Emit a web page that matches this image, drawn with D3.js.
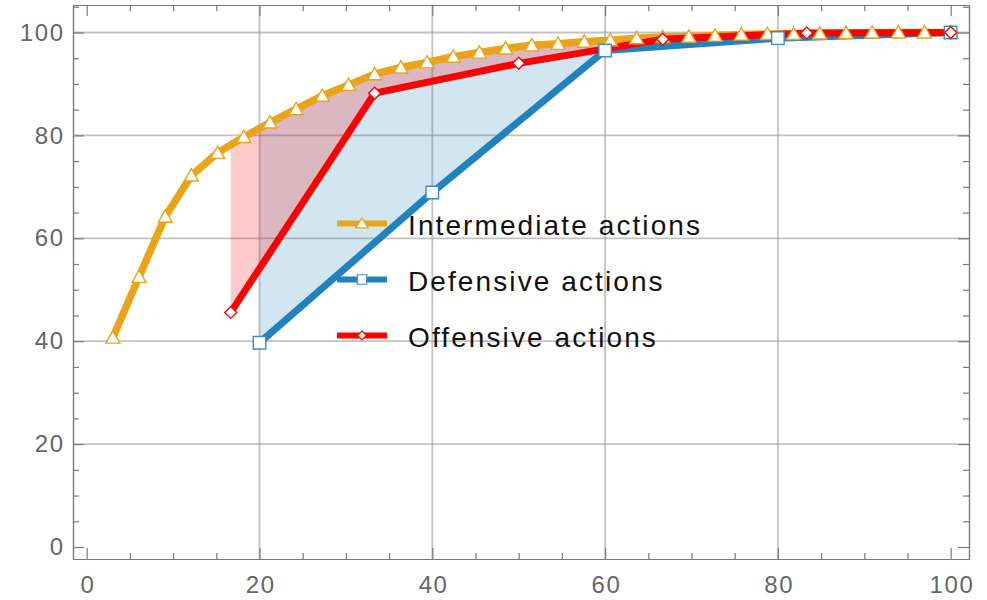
<!DOCTYPE html>
<html><head><meta charset="utf-8">
<script src="https://cdn.jsdelivr.net/npm/d3@7/dist/d3.min.js"></script>
<style>
body{margin:0;background:#fff}
svg{display:block}
text{font-family:"Liberation Sans",Arial,Helvetica,sans-serif}
</style>
</head><body>
<svg id="chart" width="987" height="600"></svg>
<script>
// ---------------- data ----------------
const seriesNames = ["Intermediate actions", "Defensive actions", "Offensive actions"];

const intermediateX = [3.03, 6.06, 9.09, 12.12, 15.15, 18.18, 21.21, 24.24, 27.27, 30.30,
  33.33, 36.36, 39.39, 42.42, 45.45, 48.48, 51.52, 54.55, 57.58, 60.61,
  63.64, 66.67, 69.70, 72.73, 75.76, 78.79, 81.82, 84.85, 87.88, 90.91,
  93.94, 96.97, 100];
const intermediateY = [40.7, 52.5, 64.2, 72.2, 76.6, 79.7, 82.5, 85.1, 87.7, 89.8,
  91.9, 93.2, 94.2, 95.3, 96.1, 96.9, 97.5, 97.8, 98.2, 98.5,
  98.9, 99.1, 99.2, 99.4, 99.6, 99.7, 99.7, 99.8, 99.9, 100,
  100, 100, 100];

const defensiveX = [20, 40, 60, 80, 100];
const defensiveY = [39.7, 68.9, 96.5, 98.9, 100];

const offensiveX = [16.67, 33.33, 50, 66.67, 83.33, 100];
const offensiveY = [45.6, 88.2, 94.0, 98.7, 99.9, 100];

const xTicks = [0, 20, 40, 60, 80, 100];
const yTicks = [0, 20, 40, 60, 80, 100];
const xMinorTicks = [5, 10, 15, 25, 30, 35, 45, 50, 55, 65, 70, 75, 85, 90, 95];
const yMinorTicks = [5, 10, 15, 25, 30, 35, 45, 50, 55, 65, 70, 75, 85, 90, 95, 105];
const xGrid = [20, 40, 60, 80];
const yGrid = [20, 40, 60, 80, 100];

// ---------------- styles ----------------
const COL_ORANGE = "#e9a517";
const COL_BLUE = "#2083c0";
const COL_RED = "#ff0000";
const FRAME = {left: 73, right: 969, top: 5, bottom: 559};

const svg = d3.select("#chart");

const x = d3.scaleLinear().domain([-1.586, 102.12]).range([FRAME.left, FRAME.right]);
const y = d3.scaleLinear().domain([-2.33, 105.34]).range([FRAME.bottom, FRAME.top]);

const zip = (xs, ys) => xs.map((v, i) => [v, ys[i]]);
const inter = zip(intermediateX, intermediateY);
const def = zip(defensiveX, defensiveY);
const off = zip(offensiveX, offensiveY);

// ---------------- grid ----------------
const grid = svg.append("g").attr("stroke", "#9a9a9a").attr("stroke-opacity", 0.6).attr("stroke-width", 1.8);
grid.selectAll("line.v").data(xGrid).join("line")
  .attr("x1", d => x(d)).attr("x2", d => x(d))
  .attr("y1", FRAME.top).attr("y2", FRAME.bottom);
grid.selectAll("line.h").data(yGrid).join("line")
  .attr("y1", d => y(d)).attr("y2", d => y(d))
  .attr("x1", FRAME.left).attr("x2", FRAME.right);

// ---------------- fills ----------------
function interp(pts, x0) {
  for (let i = 0; i < pts.length - 1; i++) {
    if (x0 >= pts[i][0] && x0 <= pts[i + 1][0]) {
      const t = (x0 - pts[i][0]) / (pts[i + 1][0] - pts[i][0]);
      return pts[i][1] + t * (pts[i + 1][1] - pts[i][1]);
    }
  }
  return pts[pts.length - 1][1];
}
function fillPoly(lower, upper) {
  const x0 = lower[0][0];
  const up = [[x0, interp(upper, x0)]].concat(upper.filter(p => p[0] > x0));
  return lower.concat(up.reverse());
}
const polyLine = d3.line().x(d => x(d[0])).y(d => y(d[1]));
svg.append("path").attr("d", polyLine(fillPoly(def, inter)) + "Z")
  .attr("fill", COL_BLUE).attr("fill-opacity", 0.2);
svg.append("path").attr("d", polyLine(fillPoly(off, inter)) + "Z")
  .attr("fill", COL_RED).attr("fill-opacity", 0.2);

// ---------------- lines ----------------
const series = [
  {data: inter, color: COL_ORANGE, marker: "tri", width: 7.5},
  {data: def, color: COL_BLUE, marker: "sq", width: 7},
  {data: off, color: COL_RED, marker: "dia", width: 7}
];
series.forEach(s => {
  svg.append("path").attr("d", polyLine(s.data))
    .attr("fill", "none").attr("stroke", s.color)
    .attr("stroke-width", s.width).attr("stroke-linejoin", "round").attr("stroke-linecap", "butt");
});

// ---------------- markers ----------------
function markerPath(type, size, hRatio) {
  if (type === "tri") {
    const w = size, h = size * (hRatio || 0.88);
    return `M0,${-h * 0.55}L${w / 2},${h * 0.45}L${-w / 2},${h * 0.45}Z`;
  } else if (type === "sq") {
    const a = size / 2;
    return `M${-a},${-a}H${a}V${a}H${-a}Z`;
  } else {
    const a = size / 2;
    return `M0,${-a}L${a},0L0,${a}L${-a},0Z`;
  }
}
const markerSize = {tri: 14, sq: 12.5, dia: 12};
const markerStroke = {tri: COL_ORANGE, sq: "#3b8fc6", dia: COL_RED};
series.forEach(s => {
  svg.append("g").selectAll("path").data(s.data).join("path")
    .attr("transform", d => `translate(${x(d[0])},${y(d[1])})`)
    .attr("d", markerPath(s.marker, markerSize[s.marker]))
    .attr("fill", "#fff").attr("stroke", markerStroke[s.marker]).attr("stroke-width", 1.4);
});

// ---------------- frame axes ----------------
function styleAxis(g) {
  g.selectAll(".domain").attr("stroke", "#7a7a7a").attr("stroke-width", 1.2);
  g.selectAll(".tick line").attr("stroke", "#7a7a7a").attr("stroke-width", 1.2);
  g.selectAll(".tick text").attr("fill", "#666").attr("font-size", 24)
    .attr("letter-spacing", "1.6px");
}
// bottom
svg.append("g").attr("transform", `translate(0,${FRAME.bottom})`)
  .call(d3.axisBottom(x).tickValues(xTicks).tickSize(-11).tickSizeOuter(0).tickPadding(17).tickFormat(d3.format("d")))
  .call(styleAxis)
  .call(g => g.selectAll(".tick text").attr("dx", "0.8px"));
svg.append("g").attr("transform", `translate(0,${FRAME.bottom})`)
  .call(d3.axisBottom(x).tickValues(xMinorTicks).tickSize(-6).tickSizeOuter(0).tickFormat(""))
  .call(styleAxis);
// top
svg.append("g").attr("transform", `translate(0,${FRAME.top})`)
  .call(d3.axisTop(x).tickValues(xTicks).tickSize(-11).tickSizeOuter(0).tickFormat(""))
  .call(styleAxis);
svg.append("g").attr("transform", `translate(0,${FRAME.top})`)
  .call(d3.axisTop(x).tickValues(xMinorTicks).tickSize(-6).tickSizeOuter(0).tickFormat(""))
  .call(styleAxis);
// left
svg.append("g").attr("transform", `translate(${FRAME.left},0)`)
  .call(d3.axisLeft(y).tickValues(yTicks).tickSize(-11).tickSizeOuter(0).tickPadding(10).tickFormat(d3.format("d")))
  .call(styleAxis)
  .call(g => g.selectAll(".tick text").attr("dx", "1.6px"));
svg.append("g").attr("transform", `translate(${FRAME.left},0)`)
  .call(d3.axisLeft(y).tickValues(yMinorTicks).tickSize(-6).tickSizeOuter(0).tickFormat(""))
  .call(styleAxis);
// right
svg.append("g").attr("transform", `translate(${FRAME.right},0)`)
  .call(d3.axisRight(y).tickValues(yTicks).tickSize(-11).tickSizeOuter(0).tickFormat(""))
  .call(styleAxis);
svg.append("g").attr("transform", `translate(${FRAME.right},0)`)
  .call(d3.axisRight(y).tickValues(yMinorTicks).tickSize(-6).tickSizeOuter(0).tickFormat(""))
  .call(styleAxis);

// ---------------- legend ----------------
const legend = svg.append("g").attr("transform", "translate(337,223.5)");
const legendItems = legend.selectAll("g").data(series).join("g")
  .attr("transform", (d, i) => `translate(0,${i * 56})`);
legendItems.append("line").attr("x1", 0).attr("x2", 50).attr("y1", 0).attr("y2", 0)
  .attr("stroke", d => d.color).attr("stroke-width", 6);
const legendMarkerSize = {tri: 12.5, sq: 9.5, dia: 9};
legendItems.append("path")
  .attr("transform", "translate(25,0)")
  .attr("d", d => markerPath(d.marker, legendMarkerSize[d.marker], 0.78))
  .attr("fill", "#fff").attr("stroke", d => markerStroke[d.marker]).attr("stroke-width", 1.2);
legendItems.append("text")
  .attr("x", 71).attr("y", 11.5)
  .attr("font-size", 28).attr("fill", "#111").attr("letter-spacing", "2.1px")
  .text((d, i) => seriesNames[i]);
</script>
</body></html>
